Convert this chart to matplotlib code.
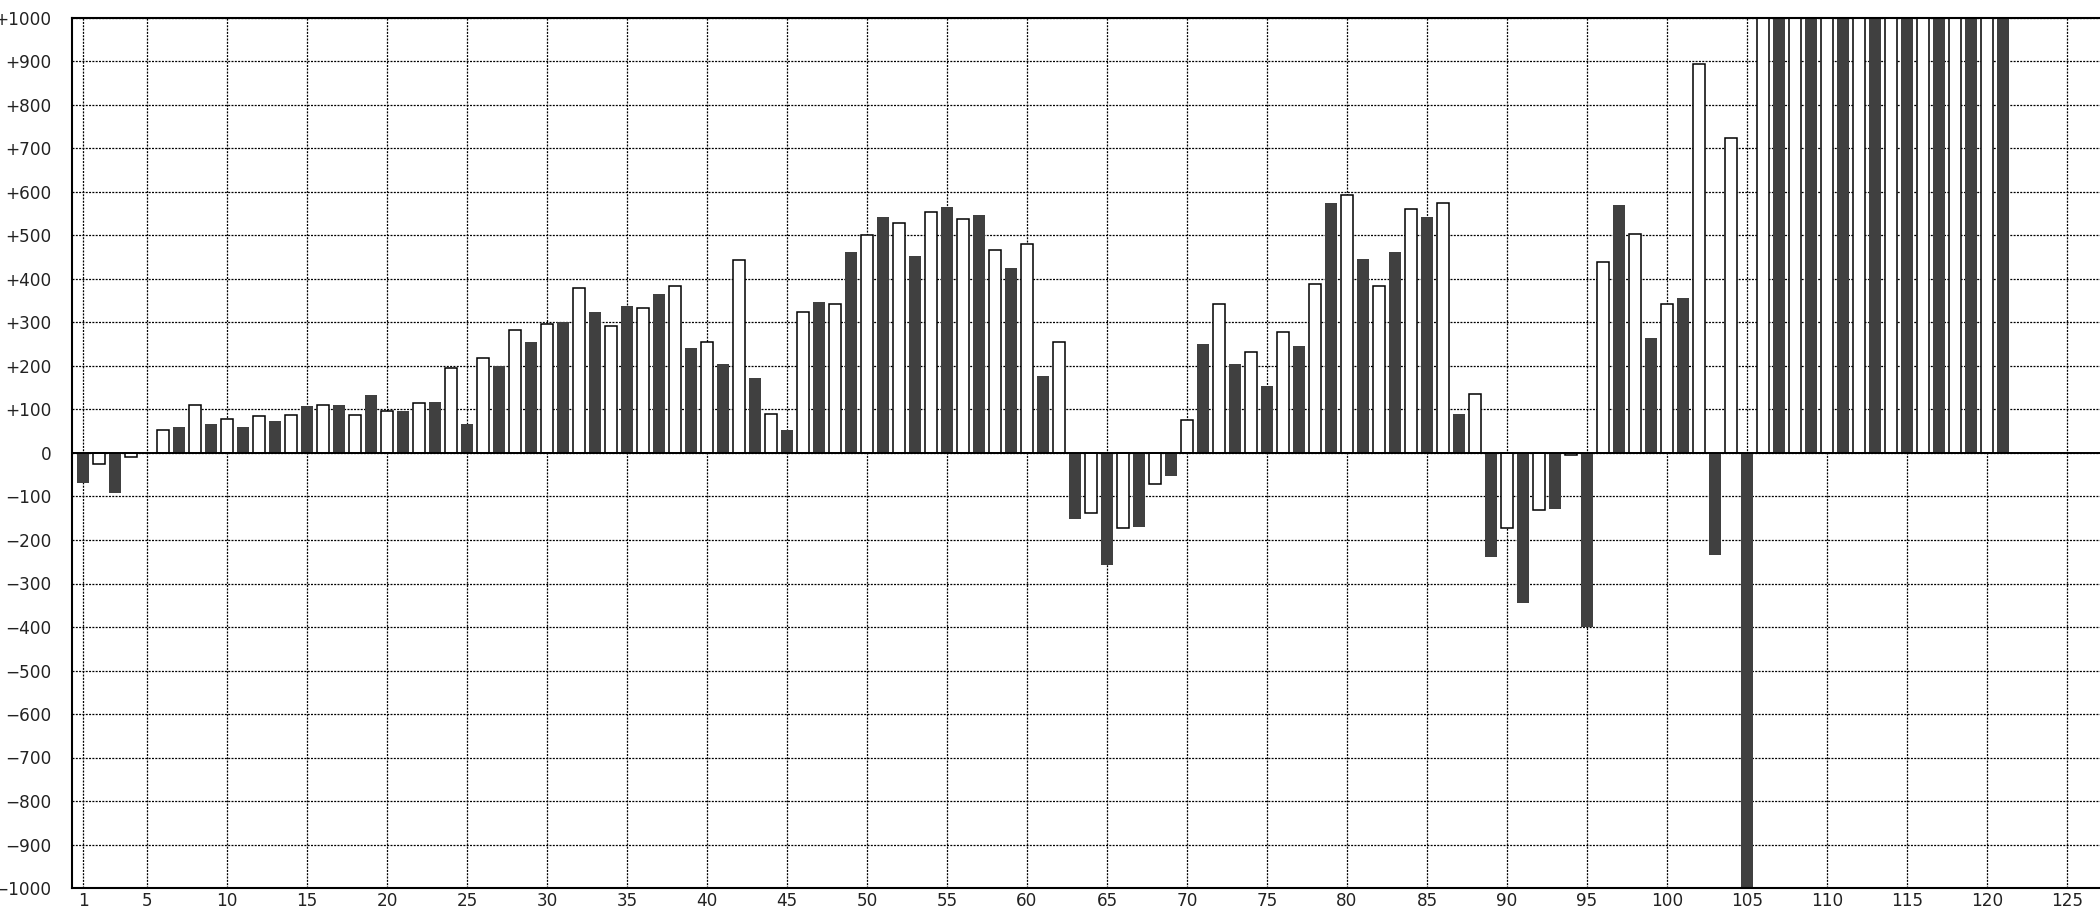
import numpy as np
import matplotlib
matplotlib.use("Agg")
from matplotlib import pyplot as plt

# values, one per bar (odd = dark, even = open)
values = [-68, -25, -92, -10, 0, 52, 60, 111, 66, 79,
          60, 84, 74, 88, 107, 111, 111, 88, 134, 97,
          97, 116, 117, 196, 66, 218, 200, 283, 256, 297,
          302, 380, 325, 292, 339, 333, 366, 384, 242, 255,
          205, 444, 172, 89, 52, 324, 348, 343, 463, 500,
          542, 528, 454, 555, 565, 537, 547, 467, 426, 481,
          177, 255, -151, -139, -257, -172, -169, -71, -54, 75,
          251, 343, 205, 232, 154, 278, 246, 389, 574, 592,
          445, 384, 463, 560, 542, 574, 89, 135, -239, -172,
          -345, -131, -128, -4, -400, 439, 570, 504, 265, 343,
          357, 895, -234, 725, -1100, 1500, 1500, 1500, 1500, 1500,
          1500, 1500, 1500, 1500, 1500, 1500, 1500, 1500, 1500, 1500,
          1500]
xticks = [1] + list(range(5, 126, 5))
yticks = list(range(-1000, 1001, 100))
ylabels = ['0' if v == 0 else ('+%d' % v if v > 0 else '\u2212%d' % -v) for v in yticks]

x = np.arange(1, len(values) + 1)
vals = np.array(values)
dark = x % 2 == 1

fig = plt.figure(figsize=(21, 9.1), dpi=100)
ax = fig.add_axes([72/2100, 1 - 888/910, 1 - 72/2100, 870/910])

ax.bar(x[dark], vals[dark], width=0.72, color='#404040', zorder=2)
ax.bar(x[~dark], vals[~dark], width=0.72, color='white', edgecolor='black',
       linewidth=1.1, zorder=2)
ax.axhline(0, color='black', lw=1.4, zorder=3)

ax.set_xlim(0.31, 127.06)
ax.set_ylim(-1000, 1000)
ax.set_xticks(xticks)
ax.set_yticks(yticks)
ax.set_yticklabels(ylabels)
ax.tick_params(axis='y', length=0, pad=15, labelsize=12.2, labelcolor='#222222')
ax.tick_params(axis='x', length=0, pad=3, labelsize=12.2, labelcolor='#222222')
ax.grid(True, color='black', lw=0.9, linestyle=(0, (1.6, 1.05)), zorder=0)
ax.set_axisbelow(True)

ax.spines['right'].set_visible(False)
for s in ['left', 'bottom', 'top']:
    ax.spines[s].set_linewidth(1.5)

fig.savefig('out.png', dpi=100)
